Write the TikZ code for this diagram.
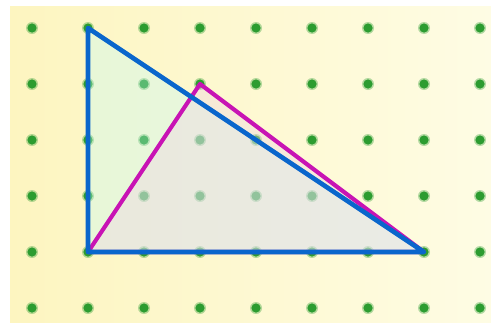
\documentclass[tikz,border=0pt]{standalone}
\begin{document}
\begin{tikzpicture}[x=0.75pt,y=-0.75pt,line join=round,line cap=round]
\definecolor{bgleft}{RGB}{253,245,192}
\definecolor{bgright}{RGB}{254,252,228}
\definecolor{dotgreen}{RGB}{44,156,48}
\definecolor{bluefill}{RGB}{190,250,253}
\definecolor{pinkfill}{RGB}{238,212,228}
\definecolor{blueline}{RGB}{10,102,204}
\definecolor{magline}{RGB}{200,20,180}
\tikzset{
  pegdot/.style={fill=dotgreen},
  pegglow/.style={fill=dotgreen,opacity=0.35},
  bluetri/.style={fill=bluefill,fill opacity=0.32},
  pinktri/.style={fill=pinkfill,fill opacity=0.38},
  blueedge/.style={draw=blueline,line width=3.5pt},
  magedge/.style={draw=magline,line width=3.1pt}
}
\useasboundingbox (0,0) rectangle (491,322);
\shade[left color=bgleft,right color=bgright] (10,6) rectangle (491,322);
% peg dots
\foreach \i in {0,...,8}{
  \foreach \j in {0,...,5}{
    \fill[pegglow] (32+56*\i,28+56*\j) circle (6);
    \fill[pegdot] (32+56*\i,28+56*\j) circle (4.6);
  }
}
% vertices
\coordinate (A) at (88,28);
\coordinate (B) at (88,252);
\coordinate (C) at (424,252);
\coordinate (D) at (200,84);
% fills
\fill[bluetri] (A) -- (B) -- (C) -- cycle;
\fill[pinktri] (B) -- (D) -- (C) -- cycle;
% edges
\draw[magedge] (B) -- (D) -- (C) -- cycle;
\draw[blueedge] (A) -- (B) -- (C) -- cycle;
\end{tikzpicture}
\end{document}
